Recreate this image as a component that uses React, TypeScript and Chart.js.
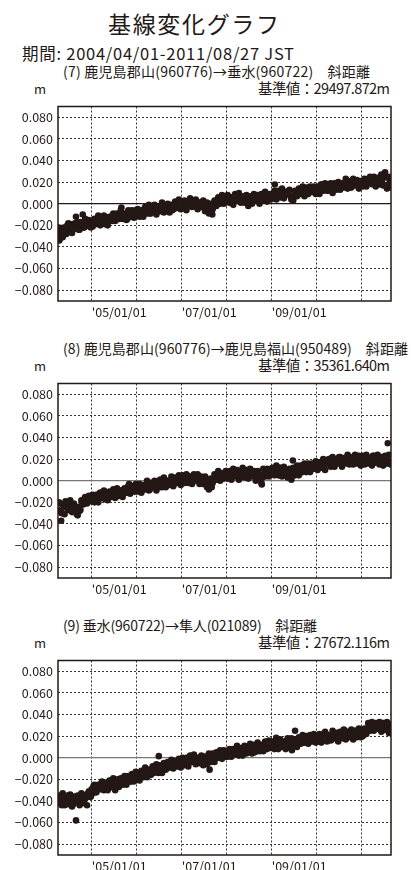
import React, { useEffect, useLayoutEffect, useRef } from "react";
import { Chart, registerables } from "chart.js";

Chart.register(...registerables);

// ---- axis definitions ----
const START_YEAR = 2004.25; // 2004/04/01
const END_YEAR = 2011.652; // 2011/08/27
const SAMPLES_PER_YEAR = 24; // each series: two readings per month
const yTickValues = [-0.08, -0.06, -0.04, -0.02, 0, 0.02, 0.04, 0.06, 0.08];
const xTickYears = [2005, 2006, 2007, 2008, 2009, 2010, 2011];
const xTickLabels = ["'05/01/01", "", "'07/01/01", "", "'09/01/01", "", ""];

// ---- texts ----
const pageTitle = "基線変化グラフ";
const periodText = "期間: 2004/04/01-2011/08/27 JST";
const unitText = "m";
const chartTitles = [
  "(7) 鹿児島郡山(960776)→垂水(960722)　斜距離",
  "(8) 鹿児島郡山(960776)→鹿児島福山(950489)　斜距離",
  "(9) 垂水(960722)→隼人(021089)　斜距離",
];
const baseValues = ["基準値：29497.872m", "基準値：35361.640m", "基準値：27672.116m"];

// ---- (7) 鹿児島郡山→垂水, metres; readings on the 1st/16th (A) and 8th/23rd (B) from 2004/04 ----
const series7A = [
  -0.028, -0.024, -0.031, -0.022, -0.026, -0.020, -0.025, -0.019, -0.023, -0.018, -0.021, -0.024, -0.017, -0.020, -0.022, -0.016, -0.019, -0.021,
  -0.018, -0.015, -0.019, -0.014, -0.017, -0.013, -0.016, -0.019, -0.013, -0.015, -0.012, -0.016, -0.013, -0.010, -0.014, -0.011, -0.013, -0.009, -0.012, -0.014, -0.009, -0.011, -0.008, -0.012,
  -0.009, -0.006, -0.010, -0.007, -0.005, -0.008, -0.006, -0.009, -0.004, -0.007, -0.005, -0.003, -0.006, -0.004, -0.007, -0.003, -0.005, -0.002, -0.004, -0.006, -0.002, -0.004, -0.001, -0.003,
  -0.002, 0.001, -0.003, 0.000, -0.002, 0.002, -0.001, 0.001, -0.003, -0.001, 0.001, -0.002, -0.004, -0.002, -0.006, -0.003, -0.007, -0.001, 0.001, 0.003, 0.001, 0.004, 0.002, 0.005,
  0.004, 0.006, 0.003, 0.005, 0.007, 0.004, 0.006, 0.003, 0.005, 0.007, 0.004, 0.001, 0.005, 0.003, 0.006, 0.004, 0.007, 0.005, 0.003, 0.006, 0.008, 0.005, 0.007, 0.009,
  0.007, 0.010, 0.008, 0.011, 0.009, 0.006, 0.010, 0.008, 0.011, 0.009, 0.007, 0.004, 0.008, 0.011, 0.009, 0.012, 0.010, 0.013, 0.011, 0.009, 0.013, 0.011, 0.014, 0.012,
  0.014, 0.012, 0.015, 0.013, 0.016, 0.014, 0.012, 0.016, 0.015, 0.017, 0.014, 0.018, 0.016, 0.015, 0.018, 0.016, 0.019, 0.017, 0.015, 0.019, 0.018, 0.020, 0.017, 0.019,
  0.020, 0.018, 0.022, 0.019, 0.021, 0.024, 0.019, 0.022, 0.020, 0.023, 0.018, 0.022, 0.025, 0.017, 0.024, 0.020,
];
const series7B = [
  -0.022, -0.029, -0.031, -0.023, -0.028, -0.018, -0.024, -0.027, -0.019, -0.023, -0.017, -0.024, -0.019, -0.022, -0.014, -0.020, -0.015, -0.022,
  -0.021, -0.014, -0.018, -0.011, -0.020, -0.014, -0.011, -0.017, -0.020, -0.012, -0.014, -0.009, -0.016, -0.009, -0.014, -0.006, -0.014, -0.010, -0.015, -0.006, -0.012, -0.006, -0.013, -0.006,
  -0.005, -0.012, -0.006, -0.012, -0.003, -0.009, -0.001, -0.009, -0.007, -0.001, -0.010, -0.003, -0.007, 0.001, -0.008, -0.003, 0.000, -0.008, -0.001, -0.005, 0.002, -0.004, 0.004, -0.005,
  -0.004, 0.003, -0.006, 0.002, 0.005, -0.003, 0.001, 0.004, -0.005, 0.001, -0.003, 0.003, -0.007, 0.001, -0.009, 0.000, -0.005, 0.003, -0.002, 0.006, 0.000, 0.008, 0.000, 0.007,
  0.008, 0.001, 0.006, -0.001, 0.009, 0.003, 0.010, 0.001, 0.006, 0.001, 0.008, -0.002, 0.007, 0.000, 0.009, 0.003, 0.008, 0.000, 0.009, 0.003, 0.011, 0.002, 0.008, 0.004,
  0.005, 0.012, 0.004, 0.012, 0.006, 0.014, 0.005, 0.011, 0.009, 0.013, 0.004, 0.003, 0.012, 0.007, 0.014, 0.009, 0.016, 0.007, 0.015, 0.009, 0.016, 0.011, 0.016, 0.009,
  0.016, 0.009, 0.018, 0.012, 0.019, 0.012, 0.014, 0.019, 0.010, 0.019, 0.013, 0.020, 0.013, 0.019, 0.015, 0.023, 0.014, 0.021, 0.015, 0.023, 0.017, 0.022, 0.014, 0.021,
  0.016, 0.023, 0.016, 0.023, 0.025, 0.018, 0.025, 0.016, 0.024, 0.018, 0.027, 0.017, 0.026, 0.014, 0.025, 0.015,
];
const outlierYears7 = [2004.28, 2004.65, 2004.8, 2005.66, 2007.68, 2009.07, 2011.52];
const outlierValues7 = [-0.034, -0.012, -0.010, -0.0036, -0.010, 0.0178, 0.029];

// ---- (8) 鹿児島郡山→鹿児島福山 ----
const series8A = [
  -0.027, -0.021, -0.030, -0.024, -0.019, -0.026, -0.022, -0.028, -0.023, -0.025, -0.031, -0.024, -0.027, -0.021, -0.017, -0.020, -0.015, -0.018,
  -0.017, -0.014, -0.018, -0.013, -0.016, -0.012, -0.015, -0.017, -0.013, -0.011, -0.015, -0.012, -0.014, -0.010, -0.013, -0.011, -0.009, -0.012, -0.010, -0.008, -0.011, -0.009, -0.007, -0.010,
  -0.008, -0.006, -0.009, -0.005, -0.007, -0.004, -0.006, -0.008, -0.003, -0.005, -0.002, -0.004, -0.006, -0.002, -0.004, -0.001, -0.003, 0.000, -0.002, -0.004, 0.001, -0.001, 0.002, 0.000,
  0.001, 0.003, -0.001, 0.002, 0.004, 0.000, 0.002, 0.004, 0.001, 0.003, -0.001, 0.001, -0.003, 0.000, -0.004, -0.001, -0.006, 0.002, 0.004, 0.001, 0.005, 0.003, 0.006, 0.004,
  0.005, 0.007, 0.003, 0.006, 0.008, 0.005, 0.009, 0.006, 0.004, 0.008, 0.006, 0.010, 0.007, 0.005, 0.008, 0.006, 0.004, 0.007, 0.005, 0.003, 0.006, 0.008, 0.005, 0.009,
  0.008, 0.011, 0.007, 0.010, 0.012, 0.008, 0.005, 0.009, 0.006, 0.003, 0.007, 0.010, 0.008, 0.012, 0.009, 0.011, 0.013, 0.010, 0.014, 0.012, 0.011, 0.015, 0.013, 0.016,
  0.014, 0.017, 0.013, 0.016, 0.018, 0.015, 0.019, 0.017, 0.021, 0.018, 0.016, 0.020, 0.022, 0.018, 0.020, 0.017, 0.021, 0.019, 0.022, 0.018, 0.020, 0.023, 0.019, 0.021,
  0.019, 0.022, 0.017, 0.020, 0.018, 0.021, 0.023, 0.017, 0.019, 0.022, 0.018, 0.020, 0.016, 0.021, 0.019, 0.017,
];
const series8B = [
  -0.020, -0.029, -0.022, -0.031, -0.022, -0.027, -0.018, -0.029, -0.021, -0.027, -0.032, -0.028, -0.018, -0.022, -0.015, -0.021, -0.014, -0.019,
  -0.013, -0.020, -0.013, -0.020, -0.011, -0.016, -0.009, -0.017, -0.018, -0.010, -0.015, -0.008, -0.016, -0.007, -0.014, -0.009, -0.015, -0.007, -0.011, -0.005, -0.012, -0.005, -0.010, -0.003,
  -0.010, -0.003, -0.011, -0.004, -0.008, 0.000, -0.009, -0.002, -0.005, 0.000, -0.009, -0.001, 0.001, -0.006, 0.003, -0.006, 0.000, -0.004, 0.004, -0.005, 0.003, -0.002, 0.005, -0.004,
  0.005, -0.002, 0.006, -0.002, 0.004, -0.003, 0.006, 0.000, 0.006, -0.003, 0.004, -0.003, 0.004, -0.006, -0.008, 0.002, -0.002, 0.006, 0.001, 0.009, 0.000, 0.007, 0.002, 0.009,
  0.002, 0.009, 0.001, 0.011, 0.004, 0.010, 0.001, 0.009, 0.012, 0.003, 0.010, 0.002, 0.011, 0.004, 0.009, 0.000, 0.009, 0.002, -0.002, 0.011, 0.004, 0.011, 0.004, 0.011,
  0.012, 0.005, 0.014, 0.005, 0.012, 0.004, 0.013, 0.007, 0.003, 0.011, 0.001, 0.012, 0.005, 0.014, 0.005, 0.014, 0.008, 0.016, 0.008, 0.016, 0.008, 0.016, 0.011, 0.018,
  0.010, 0.017, 0.012, 0.020, 0.010, 0.018, 0.020, 0.013, 0.022, 0.013, 0.020, 0.016, 0.022, 0.013, 0.021, 0.016, 0.024, 0.015, 0.021, 0.015, 0.024, 0.016, 0.023, 0.014,
  0.023, 0.015, 0.024, 0.016, 0.021, 0.014, 0.023, 0.017, 0.024, 0.015, 0.022, 0.014, 0.023, 0.016, 0.024, 0.015,
];
const outlierYears8 = [2004.32, 2005.83, 2008.78, 2009.47, 2011.58];
const outlierValues8 = [-0.037, -0.003, -0.0035, 0.0187, 0.0347];

// ---- (9) 垂水→隼人 ----
const series9A = [
  -0.041, -0.036, -0.044, -0.038, -0.042, -0.035, -0.040, -0.037, -0.043, -0.039, -0.036, -0.041, -0.038, -0.034, -0.040, -0.037, -0.033, -0.036,
  -0.029, -0.026, -0.031, -0.027, -0.025, -0.029, -0.026, -0.023, -0.027, -0.024, -0.021, -0.025, -0.028, -0.023, -0.020, -0.024, -0.022, -0.019, -0.023, -0.021, -0.018, -0.022, -0.019, -0.017,
  -0.019, -0.016, -0.018, -0.014, -0.016, -0.012, -0.015, -0.013, -0.011, -0.014, -0.010, -0.012, -0.009, -0.011, -0.008, -0.010, -0.007, -0.009, -0.006, -0.008, -0.005, -0.007, -0.004, -0.006,
  -0.004, -0.002, -0.005, -0.003, -0.001, -0.004, -0.002, 0.000, -0.003, -0.001, -0.004, -0.002, -0.005, -0.001, -0.003, 0.000, -0.002, 0.001, 0.000, 0.002, 0.000, 0.003, 0.001, 0.004,
  0.003, 0.005, 0.002, 0.006, 0.004, 0.007, 0.005, 0.003, 0.006, 0.008, 0.005, 0.007, 0.006, 0.009, 0.007, 0.005, 0.008, 0.010, 0.007, 0.009, 0.008, 0.011, 0.009, 0.010,
  0.011, 0.009, 0.012, 0.010, 0.013, 0.011, 0.014, 0.012, 0.010, 0.013, 0.015, 0.012, 0.014, 0.016, 0.013, 0.015, 0.017, 0.014, 0.016, 0.018, 0.015, 0.017, 0.019, 0.016,
  0.018, 0.016, 0.019, 0.017, 0.020, 0.018, 0.021, 0.019, 0.017, 0.020, 0.022, 0.019, 0.021, 0.023, 0.020, 0.022, 0.024, 0.021, 0.023, 0.020, 0.022, 0.025, 0.022, 0.024,
  0.023, 0.021, 0.025, 0.027, 0.029, 0.026, 0.030, 0.028, 0.031, 0.027, 0.029, 0.032, 0.026, 0.030, 0.028, 0.025,
];
const series9B = [
  -0.035, -0.042, -0.033, -0.044, -0.037, -0.043, -0.034, -0.045, -0.036, -0.041, -0.035, -0.044, -0.033, -0.042, -0.035, -0.044, -0.031, -0.036,
  -0.033, -0.025, -0.032, -0.025, -0.029, -0.022, -0.030, -0.024, -0.030, -0.021, -0.027, -0.019, -0.030, -0.021, -0.027, -0.019, -0.025, -0.017, -0.025, -0.017, -0.022, -0.015, -0.022, -0.013,
  -0.015, -0.021, -0.012, -0.018, -0.009, -0.018, -0.011, -0.016, -0.008, -0.013, -0.006, -0.014, -0.007, -0.014, -0.005, -0.011, -0.004, -0.009, -0.002, -0.010, -0.003, -0.008, -0.001, -0.009,
  0.000, -0.007, 0.000, -0.008, 0.002, -0.004, 0.003, -0.006, 0.000, -0.005, 0.002, -0.007, 0.001, -0.006, 0.004, -0.004, 0.004, -0.004, 0.005, 0.000, 0.007, -0.001, 0.007, 0.001,
  0.001, 0.008, 0.001, 0.008, 0.003, 0.011, 0.002, 0.009, 0.002, 0.011, 0.004, 0.010, 0.013, 0.004, 0.012, 0.006, 0.014, 0.006, 0.012, 0.006, 0.015, 0.008, 0.016, 0.009,
  0.015, 0.008, 0.015, 0.008, 0.017, 0.010, 0.015, 0.008, 0.018, 0.012, 0.018, 0.011, 0.017, 0.010, 0.019, 0.013, 0.021, 0.014, 0.020, 0.013, 0.021, 0.015, 0.022, 0.014,
  0.015, 0.022, 0.014, 0.022, 0.024, 0.015, 0.021, 0.016, 0.025, 0.018, 0.023, 0.015, 0.024, 0.018, 0.026, 0.017, 0.024, 0.019, 0.026, 0.017, 0.025, 0.019, 0.027, 0.019,
  0.020, 0.027, 0.022, 0.032, 0.025, 0.033, 0.025, 0.032, 0.027, 0.033, 0.024, 0.032, 0.026, 0.033, 0.023, 0.031,
];
const outlierYears9 = [2004.65, 2006.49, 2007.62, 2009.1, 2009.45, 2009.52];
const outlierValues9 = [-0.058, 0.0015, -0.011, 0.0185, 0.007, 0.025];

const INK = "#231815";
const FONT_FAMILY = "'Noto Sans CJK JP', 'Noto Sans', sans-serif";

const PLOT_LEFT = 58;
const PLOT_RIGHT = 391;
const PLOT_HEIGHT = 203;
const PAD_TOP = 4;
const X_AXIS_H = 26;
const plotTops = [98, 375, 652];
const titleRightEdges = [370, 408, 317];

const framePlugin = {
  id: "frame",
  afterDraw(chart: any) {
    const { ctx, chartArea } = chart;
    ctx.save();
    ctx.strokeStyle = INK;
    ctx.lineWidth = 1.5;
    ctx.strokeRect(chartArea.left, chartArea.top, chartArea.right - chartArea.left, chartArea.bottom - chartArea.top);
    ctx.restore();
  },
};

function BaselineChart(props: {
  top: number;
  valuesA: number[];
  valuesB: number[];
  outYears: number[];
  outValues: number[];
  zeroColor: string;
}) {
  const ref = useRef<HTMLCanvasElement>(null);
  useEffect(() => {
    if (!ref.current) return;
    const ptsA = props.valuesA.map((v, i) => ({ x: START_YEAR + i / SAMPLES_PER_YEAR, y: v }));
    const ptsB = props.valuesB.map((v, i) => ({ x: START_YEAR + (i + 0.5) / SAMPLES_PER_YEAR, y: v }));
    const outPts = props.outYears.map((x, i) => ({ x, y: props.outValues[i] }));
    const tickFont = { family: FONT_FAMILY, size: 12.5 };
    const dot = { pointRadius: 3.3, pointBackgroundColor: INK, pointBorderWidth: 0, clip: 0 };
    const chart = new Chart(ref.current, {
      type: "scatter",
      data: {
        datasets: [
          { data: ptsA, ...dot } as any,
          { data: ptsB, ...dot } as any,
          { data: outPts, ...dot } as any,
        ],
      },
      options: {
        animation: false,
        responsive: false,
        events: [],
        layout: { padding: { top: PAD_TOP, right: 411 - PLOT_RIGHT, left: 0, bottom: 0 } },
        plugins: { legend: { display: false }, tooltip: { enabled: false } },
        scales: {
          x: {
            type: "linear",
            min: START_YEAR,
            max: END_YEAR,
            afterBuildTicks: (s: any) => {
              s.ticks = xTickYears.map((v) => ({ value: v }));
            },
            afterFit: (s: any) => {
              s.height = X_AXIS_H;
            },
            ticks: {
              autoSkip: false,
              maxRotation: 0,
              align: "start",
              padding: 4,
              color: INK,
              font: tickFont,
              callback: (v: any) => {
                const i = xTickYears.indexOf(Number(v));
                return i >= 0 ? xTickLabels[i] : "";
              },
            },
            grid: { color: "#333", lineWidth: 1, drawTicks: false },
            border: { display: false, dash: [2, 2] },
          },
          y: {
            min: -0.09,
            max: 0.09,
            afterBuildTicks: (s: any) => {
              s.ticks = yTickValues.map((v) => ({ value: v }));
            },
            afterFit: (s: any) => {
              s.width = PLOT_LEFT;
            },
            ticks: {
              padding: 5,
              color: INK,
              font: tickFont,
              callback: (v: any) => Number(v).toFixed(3).replace("-", "−"),
            },
            grid: {
              drawTicks: false,
              lineWidth: (c: any) => (c.tick && c.tick.value === 0 ? 1.3 : 1),
              color: (c: any) => (c.tick && c.tick.value === 0 ? props.zeroColor : "#333"),
            },
            border: {
              display: false,
              dash: (c: any) => (c.tick && c.tick.value === 0 ? [] : [2, 2]),
            } as any,
          },
        },
      } as any,
      plugins: [framePlugin],
    });
    return () => chart.destroy();
  }, []);
  return (
    <canvas
      ref={ref}
      width={411}
      height={PAD_TOP + PLOT_HEIGHT + X_AXIS_H}
      style={{ position: "absolute", left: 0, top: props.top - PAD_TOP, display: "block" }}
    />
  );
}

// text fitted between a left and right edge (as measured on the reference)
function Label(props: { text: string; x0: number; x1?: number; cy: number; size: number }) {
  const ref = useRef<HTMLDivElement>(null);
  useLayoutEffect(() => {
    const el = ref.current;
    if (!el || props.x1 === undefined) return;
    el.style.letterSpacing = "0px";
    const w = el.getBoundingClientRect().width;
    const n = Array.from(props.text).length;
    if (n > 1) el.style.letterSpacing = `${(props.x1 - props.x0 - w) / (n - 1)}px`;
  }, []);
  return (
    <div
      ref={ref}
      style={{
        position: "absolute",
        left: props.x0,
        top: props.cy - props.size / 2 - 1,
        fontSize: props.size,
        lineHeight: `${props.size + 2}px`,
        fontFamily: FONT_FAMILY,
        color: INK,
        whiteSpace: "pre",
      }}
    >
      {props.text}
    </div>
  );
}

export default function App() {
  const seriesA = [series7A, series8A, series9A];
  const seriesB = [series7B, series8B, series9B];
  const outYearsList = [outlierYears7, outlierYears8, outlierYears9];
  const outValuesList = [outlierValues7, outlierValues8, outlierValues9];
  const zeroColors = ["#231815", "#777", "#777"];
  return (
    <div style={{ position: "absolute", left: 0, top: 0, width: 411, height: 870, background: "#fff", overflow: "hidden" }}>
      <Label text={pageTitle} x0={108} x1={279} cy={23} size={23} />
      <Label text={periodText} x0={22} x1={294} cy={53} size={16.5} />
      {plotTops.map((t, k) => (
        <React.Fragment key={k}>
          <Label text={chartTitles[k]} x0={63} x1={titleRightEdges[k]} cy={t - 27} size={14} />
          <Label text={unitText} x0={34} cy={t - 10} size={13} />
          <Label text={baseValues[k]} x0={258} x1={390} cy={t - 10} size={14.5} />
          <BaselineChart
            top={t}
            valuesA={seriesA[k]}
            valuesB={seriesB[k]}
            outYears={outYearsList[k]}
            outValues={outValuesList[k]}
            zeroColor={zeroColors[k]}
          />
        </React.Fragment>
      ))}
    </div>
  );
}
